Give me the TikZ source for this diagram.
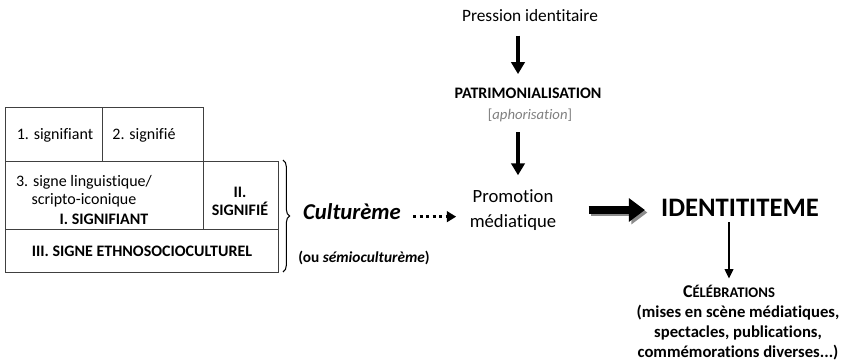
\documentclass[tikz,border=0pt]{standalone}
\usepackage{fontspec}
\setmainfont{Carlito}[Ligatures=CommonOff]
\usepackage{tikz}
\usetikzlibrary{arrows.meta,decorations.pathreplacing}

\begin{document}
\begin{tikzpicture}[x=0.75pt,y=-0.75pt,
		cell/.style={draw=black!75, line width=0.6pt},
		txt/.style={inner sep=0pt, align=center, font=\fontsize{12}{13.5}\selectfont},
		fleche/.style={-{Triangle[length=9pt,width=10pt]}, line width=2.3pt},
		flechefine/.style={-{Triangle[length=7pt,width=6.5pt]}, line width=1pt},
		pointille/.style={-{Triangle[length=7pt,width=8pt]}, line width=2.3pt, dash pattern=on 2.3pt off 2.6pt},
		grossefleche/.style={-{Triangle[length=12pt,width=17pt]}, line width=5.5pt}]
	\useasboundingbox (0,0) rectangle (846,364);
	% tableau du signe
	\draw[cell] (5,107) rectangle (102,161);
	\draw[cell] (102,107) rectangle (203,161);
	\draw[cell] (5,161) rectangle (203,229);
	\draw[cell] (203,161) rectangle (278,229);
	\draw[cell] (5,229) rectangle (278,272);
	\node[txt] (sgt) at (55,135) {1. signifiant};
	\node[txt] (sgf) at (144,135) {2. signifié};
	\node[txt] (ling) at (84,191) {3. signe linguistique/\\scripto-iconique};
	\node[txt, font=\fontsize{12}{13.5}\selectfont\bfseries] (sgtI) at (104,219) {I. SIGNIFIANT};
	\node[txt, font=\fontsize{12}{13.5}\selectfont\bfseries] (sgfII) at (240,201) {II.\\SIGNIFIÉ};
	\node[txt, font=\fontsize{12}{13.5}\selectfont\bfseries] (ethno) at (142,251) {III. SIGNE ETHNOSOCIOCULTUREL};
	\draw[decorate, decoration={brace, amplitude=5pt}, line width=0.8pt] (283,160) -- (283,272);
	% culturème
	\node[txt, font=\fontsize{17}{20}\selectfont\bfseries\itshape] (cult) at (352,212) {Culturème};
	\node[txt, font=\fontsize{11.5}{14}\selectfont\bfseries] (semio) at (364,258) {(ou \textit{sémioculturème})};
	% colonne centrale
	\coordinate (axe) at (518,0);
	\node[txt, font=\fontsize{13}{15}\selectfont] (pres) at (530,16) {Pression identitaire};
	\node[txt, font=\fontsize{12}{14}\selectfont\bfseries] (patr) at (528,93) {PATRIMONIALISATION};
	\node[txt, font=\fontsize{11}{13}\selectfont, text=black!50] (aph) at (530,115) {[\textit{aphorisation}]};
	\node[txt, font=\fontsize{14}{18.75}\selectfont] (promo) at (513,210) {Promotion\\médiatique};
	\draw[fleche, shorten <=10pt, shorten >=10pt] (pres.south -| axe) -- (patr.north -| axe);
	\draw[fleche, shorten <=8pt, shorten >=10.5pt] (aph.south -| axe) -- (promo.north -| axe);
	\draw[pointille, shorten <=9pt, shorten >=10pt] ([yshift=-3.5pt]cult.east) -- ([yshift=-3.5pt]cult.east -| promo.west);
	% identititeme
	\node[txt, font=\fontsize{20}{24}\selectfont\bfseries] (idt) at (740,208) {IDENTITITEME};
	\draw[grossefleche, black!45, shorten <=24pt, shorten >=12pt] ([shift={(2.5,2.5)}]promo.east) -- ([shift={(2.5,2.5)}]promo.east -| idt.west);
	\draw[grossefleche, shorten <=24pt, shorten >=12pt] (promo.east) -- (promo.east -| idt.west);
	\node[txt, font=\bfseries] (celeb) at (729,291) {\fontsize{13.5}{15}\selectfont C\fontsize{11}{12}\selectfont ÉLÉBRATIONS};
	\node[txt, font=\fontsize{12.5}{15}\selectfont\bfseries] (fetes) at (738,333) {(mises en scène médiatiques,\\spectacles, publications,\\commémorations diverses...)};
	\draw[flechefine, shorten <=4pt, shorten >=4.5pt] (celeb.north |- idt.south) -- (celeb.north);
\end{tikzpicture}
\end{document}
